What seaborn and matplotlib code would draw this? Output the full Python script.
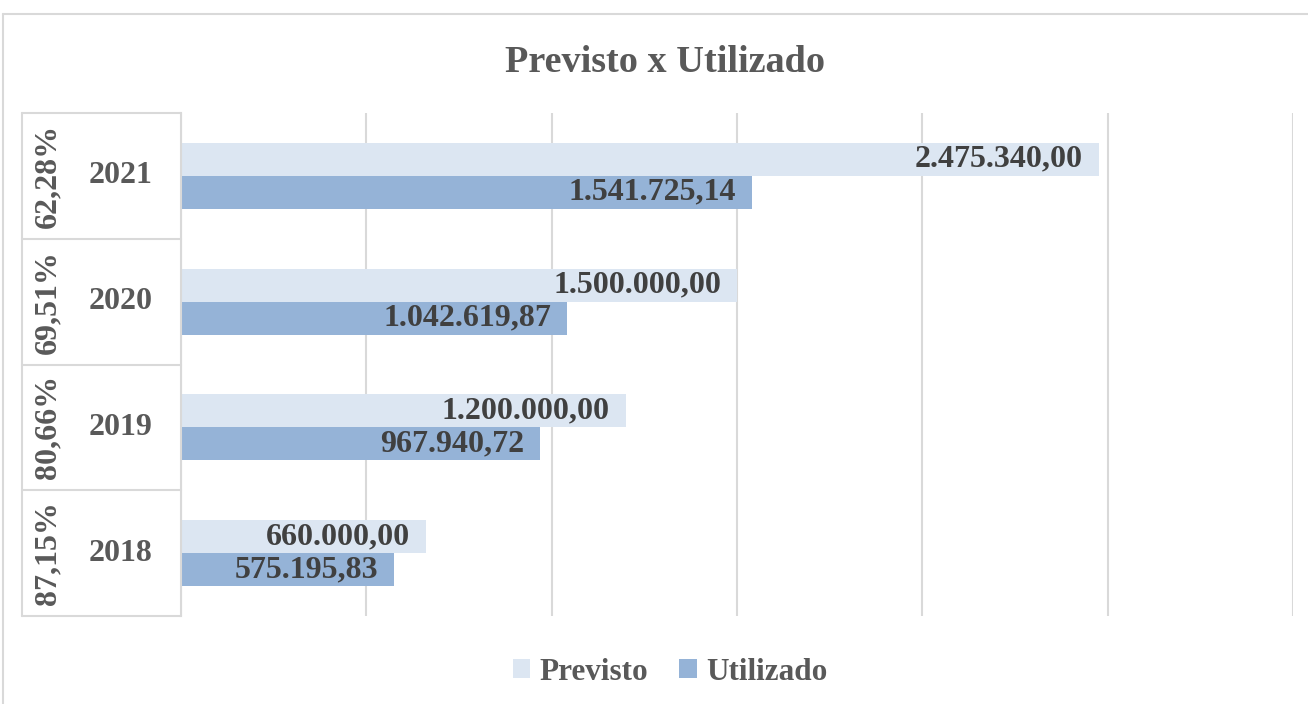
import matplotlib
matplotlib.use('Agg')
import matplotlib.pyplot as plt
import matplotlib.transforms as mtransforms
from matplotlib.lines import Line2D
from matplotlib.patches import Patch
import seaborn as sns
import pandas as pd

# dados
anos = ['2021', '2020', '2019', '2018']
previsto = [2475340.00, 1500000.00, 1200000.00, 660000.00]
utilizado = [1541725.14, 1042619.87, 967940.72, 575195.83]
percentuais = ['62,28%', '69,51%', '80,66%', '87,15%']
series = ['Previsto', 'Utilizado']
cores = ['#DCE6F2', '#95B3D7']

df = pd.DataFrame({'Ano': anos * 2,
                   'Valor': previsto + utilizado,
                   'Serie': [series[0]] * 4 + [series[1]] * 4})


def fmt_br(v):
    s = f'{v:,.2f}'
    return s.replace(',', '#').replace('.', ',').replace('#', '.')


sns.set_style('white')
plt.rcParams['font.family'] = ['Liberation Serif', 'DejaVu Serif']
plt.rcParams['font.weight'] = 'bold'

W, H = 1308, 704
fig = plt.figure(figsize=(W / 100, H / 100), dpi=100)
ax = fig.add_axes([181 / W, 1 - 616 / H, 1112 / W, 503 / H])

sns.barplot(data=df, y='Ano', x='Valor', hue='Serie', order=anos,
            hue_order=series, palette=cores, saturation=1, width=0.525,
            orient='h', ax=ax, legend=False, linewidth=0)

ax.set_xlim(0, 3000000)
ax.set_ylim(3.5, -0.5)
ax.set_xticks(range(0, 3000001, 500000))
ax.set_xticklabels([])
ax.set_yticks([])
ax.tick_params(length=0)
ax.set_xlabel('')
ax.set_ylabel('')
ax.grid(axis='x', color='#D9D9D9', lw=1.5)
ax.grid(axis='y', visible=False)
ax.set_axisbelow(True)
for s in ['top', 'right', 'bottom']:
    ax.spines[s].set_visible(False)
ax.spines['left'].set_color('#D9D9D9')
ax.spines['left'].set_linewidth(1.5)

# rótulos de dados
for cont in ax.containers:
    for bar in cont:
        v = bar.get_width()
        yc = bar.get_y() + bar.get_height() / 2
        ax.annotate(fmt_br(v), xy=(v, yc), xytext=(-11.5, 0),
                    textcoords='offset points', ha='right', va='center',
                    fontsize=23, color='#404040', weight='bold')

# tabela de categorias à esquerda
trans = mtransforms.blended_transform_factory(ax.transAxes, ax.transData)
esq = (22 - 181) / 1112
for b in [-0.5, 0.5, 1.5, 2.5, 3.5]:
    ax.plot([esq, 0], [b, b], transform=trans, color='#D9D9D9', lw=1.5,
            clip_on=False)
ax.plot([esq, esq], [-0.5, 3.5], transform=trans, color='#D9D9D9', lw=1.5,
        clip_on=False)
for i, (a, p) in enumerate(zip(anos, percentuais)):
    ax.text((121 - 181) / 1112, i, a, transform=trans, ha='center',
            va='center', fontsize=23, color='#595959', weight='bold')
    ax.text((48 - 181) / 1112, i, p, transform=trans, ha='center',
            va='center', fontsize=23, color='#595959', weight='bold',
            rotation=90)

# moldura
fig.add_artist(Line2D([3 / W, 3 / W], [0, 1 - 14 / H], color='#D9D9D9', lw=1.5))
fig.add_artist(Line2D([3 / W, 1], [1 - 14 / H, 1 - 14 / H], color='#D9D9D9', lw=1.5))

fig.text(665 / W, 1 - 62 / H, 'Previsto x Utilizado', ha='center',
         va='center', fontsize=27.5, color='#595959', weight='bold')

handles = [Patch(facecolor=c, edgecolor='none') for c in cores]
fig.legend(handles, series, loc='center', bbox_to_anchor=(670 / W, 1 - 672 / H),
           ncol=2, frameon=False, fontsize=22.5, handlelength=0.55,
           handleheight=0.55, handletextpad=0.3, columnspacing=1.0,
           labelcolor='#595959')

fig.savefig('out.png', dpi=100)
